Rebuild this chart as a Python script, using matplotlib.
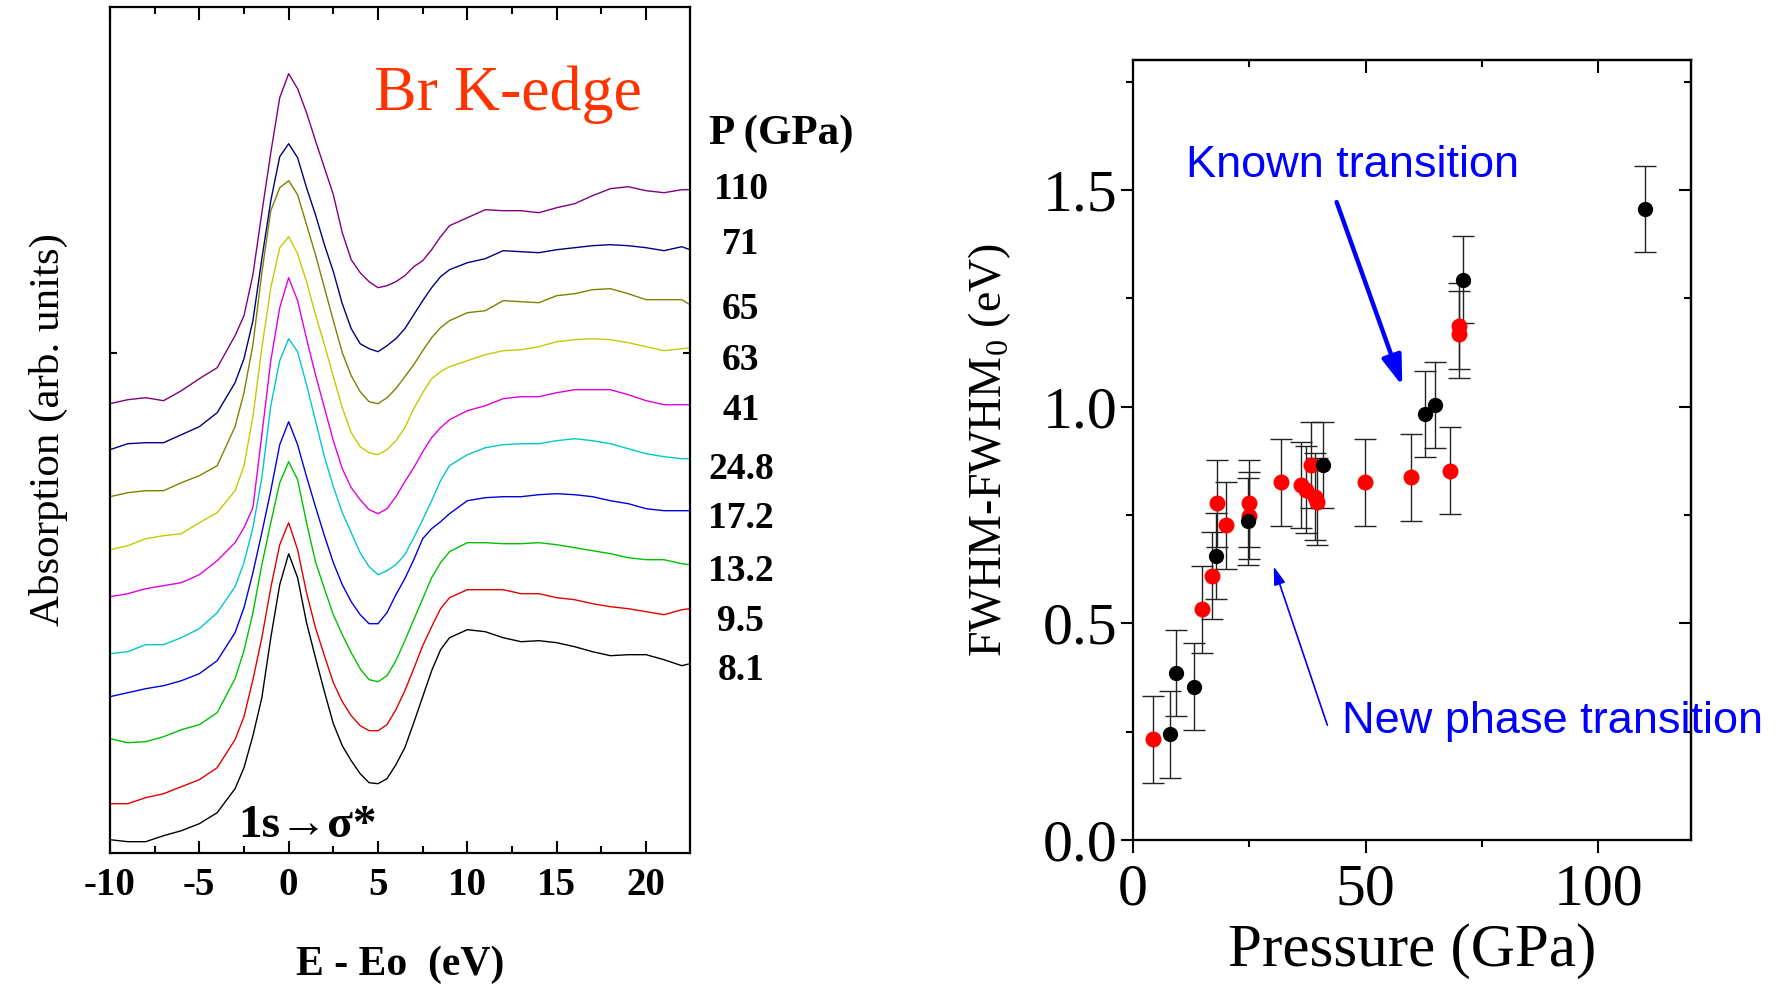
import matplotlib
matplotlib.use('Agg')
import matplotlib.pyplot as plt
from matplotlib.ticker import MultipleLocator

# 字体设置
plt.rcParams['font.family'] = ['Liberation Serif', 'DejaVu Serif']
plt.rcParams['mathtext.fontset'] = 'custom'
plt.rcParams['mathtext.rm'] = 'Liberation Serif'
plt.rcParams['axes.unicode_minus'] = False

# ---------------- Br K-edge XANES ----------------
energy = [-10, -9, -8, -7, -6, -5, -4, -3,
          -2.5, -2, -1.5, -1, -0.5, 0, 0.5, 1,
          1.5, 2, 2.5, 3, 3.5, 4, 4.5, 5,
          5.5, 6, 6.5, 7, 7.5, 8, 8.5, 9,
          10, 11, 12, 13, 14, 15, 16,
          17, 18, 19, 20, 21, 22, 22.45]

spec_8p1 = [0.13, 0.11, 0.11, 0.17, 0.22, 0.29, 0.40, 0.64,
            0.85, 1.17, 1.55, 2.15, 2.68, 2.99, 2.75, 2.30,
            1.95, 1.61, 1.29, 1.07, 0.92, 0.79, 0.70, 0.69,
            0.74, 0.88, 1.05, 1.30, 1.56, 1.82, 2.03, 2.15,
            2.23, 2.21, 2.15, 2.11, 2.12, 2.10, 2.06,
            2.01, 1.97, 1.98, 1.98, 1.93, 1.87, 1.89]
spec_9p5 = [0.49, 0.49, 0.55, 0.59, 0.66, 0.73, 0.85, 1.13,
            1.36, 1.73, 2.15, 2.65, 3.08, 3.30, 3.03, 2.60,
            2.25, 1.97, 1.70, 1.51, 1.37, 1.27, 1.22, 1.22,
            1.28, 1.43, 1.62, 1.84, 2.07, 2.26, 2.44, 2.55,
            2.63, 2.63, 2.63, 2.59, 2.59, 2.55, 2.53,
            2.49, 2.46, 2.44, 2.41, 2.38, 2.43, 2.44]
spec_13p2 = [1.14, 1.10, 1.11, 1.16, 1.23, 1.28, 1.40, 1.74,
             2.02, 2.40, 2.88, 3.30, 3.70, 3.91, 3.73, 3.30,
             2.91, 2.64, 2.38, 2.18, 2.00, 1.84, 1.73, 1.71,
             1.77, 1.92, 2.12, 2.33, 2.54, 2.75, 2.90, 3.01,
             3.10, 3.10, 3.09, 3.09, 3.10, 3.08, 3.05,
             3.02, 2.99, 2.95, 2.93, 2.93, 2.89, 2.88]
spec_17p2 = [1.56, 1.60, 1.64, 1.67, 1.72, 1.79, 1.92, 2.20,
             2.45, 2.80, 3.20, 3.62, 4.08, 4.31, 4.08, 3.76,
             3.46, 3.17, 2.90, 2.68, 2.51, 2.38, 2.29, 2.29,
             2.40, 2.58, 2.74, 2.93, 3.14, 3.24, 3.31, 3.39,
             3.52, 3.55, 3.56, 3.56, 3.58, 3.59, 3.58,
             3.56, 3.52, 3.49, 3.44, 3.42, 3.42, 3.42]
spec_24p8 = [1.99, 2.01, 2.08, 2.08, 2.15, 2.24, 2.40, 2.66,
             2.90, 3.25, 3.75, 4.47, 4.92, 5.14, 5.01, 4.68,
             4.32, 3.96, 3.66, 3.40, 3.20, 3.00, 2.86, 2.78,
             2.82, 2.88, 2.98, 3.15, 3.33, 3.52, 3.72, 3.87,
             3.98, 4.05, 4.08, 4.09, 4.09, 4.12, 4.14,
             4.12, 4.09, 4.04, 3.99, 3.96, 3.94, 3.94]
spec_41 = [2.56, 2.59, 2.64, 2.67, 2.70, 2.78, 2.92, 3.10,
           3.25, 3.45, 4.18, 4.92, 5.45, 5.75, 5.52, 5.14,
           4.78, 4.45, 4.12, 3.84, 3.65, 3.53, 3.43, 3.39,
           3.44, 3.56, 3.71, 3.85, 4.01, 4.15, 4.25, 4.33,
           4.42, 4.47, 4.54, 4.56, 4.56, 4.60, 4.63,
           4.63, 4.63, 4.58, 4.52, 4.48, 4.48, 4.48]
spec_63 = [3.03, 3.07, 3.14, 3.17, 3.19, 3.30, 3.40, 3.62,
           3.87, 4.36, 5.05, 5.65, 6.05, 6.16, 5.99, 5.71,
           5.38, 5.08, 4.76, 4.45, 4.20, 4.06, 4.00, 3.98,
           4.03, 4.12, 4.25, 4.44, 4.60, 4.74, 4.81, 4.86,
           4.92, 4.98, 5.02, 5.03, 5.06, 5.11, 5.13,
           5.14, 5.13, 5.10, 5.06, 5.02, 5.04, 5.05]
spec_65 = [3.56, 3.60, 3.62, 3.62, 3.70, 3.77, 3.87, 4.26,
           4.60, 5.08, 5.80, 6.42, 6.65, 6.72, 6.58, 6.28,
           5.98, 5.65, 5.32, 5.00, 4.77, 4.61, 4.51, 4.49,
           4.55, 4.64, 4.76, 4.88, 5.02, 5.15, 5.25, 5.32,
           5.40, 5.42, 5.52, 5.51, 5.50, 5.57, 5.59,
           5.63, 5.64, 5.59, 5.53, 5.53, 5.53, 5.48]
spec_71 = [4.03, 4.09, 4.10, 4.10, 4.18, 4.26, 4.40, 4.70,
           4.94, 5.32, 5.94, 6.52, 6.96, 7.09, 6.95, 6.65,
           6.38, 6.08, 5.81, 5.49, 5.24, 5.09, 5.04, 5.01,
           5.07, 5.14, 5.24, 5.38, 5.52, 5.65, 5.76, 5.83,
           5.90, 5.94, 6.02, 6.01, 6.00, 6.03, 6.05,
           6.07, 6.08, 6.07, 6.05, 6.02, 6.06, 6.03]
spec_110 = [4.49, 4.53, 4.55, 4.52, 4.62, 4.74, 4.85, 5.17,
            5.37, 5.78, 6.40, 7.00, 7.55, 7.79, 7.64, 7.40,
            7.12, 6.85, 6.58, 6.20, 5.93, 5.80, 5.71, 5.65,
            5.67, 5.71, 5.77, 5.86, 5.92, 6.03, 6.16, 6.27,
            6.35, 6.43, 6.42, 6.42, 6.40, 6.45, 6.49,
            6.57, 6.64, 6.66, 6.62, 6.60, 6.63, 6.63]

spectra = [spec_8p1, spec_9p5, spec_13p2, spec_17p2, spec_24p8,
           spec_41, spec_63, spec_65, spec_71, spec_110]
p_labels = ['8.1', '9.5', '13.2', '17.2', '24.8', '41', '63', '65', '71', '110']
spec_colors = ['#000000', '#e00000', '#00c000', '#0000e0', '#00c8c8',
               '#e000e0', '#c8c800', '#808000', '#000080', '#800080']
label_y = [1.82, 2.31, 2.81, 3.34, 3.83, 4.42, 4.92, 5.43, 6.08, 6.63]

# ---------------- FWHM vs pressure ----------------
p_black = [8.0, 9.4, 13.2, 17.8, 24.7, 40.9, 62.8, 64.9, 71.0, 110.0]
w_black = [0.244, 0.385, 0.354, 0.655, 0.735, 0.865, 0.983, 1.004, 1.293, 1.456]
p_red = [4.4, 14.8, 17.0, 18.2, 20.0, 25.0, 25.0, 31.8, 36.1,
         37.3, 38.3, 39.1, 39.6, 49.8, 59.7, 68.1, 70.0, 70.0]
w_red = [0.232, 0.532, 0.610, 0.777, 0.726, 0.777, 0.748, 0.825, 0.819,
         0.808, 0.865, 0.792, 0.781, 0.825, 0.837, 0.852, 1.186, 1.167]
w_err = 0.1

fig = plt.figure(figsize=(17.79, 9.86), dpi=100)

# 左图: 吸收谱
ax1 = fig.add_axes([0.0618, 0.1352, 0.3260, 0.8574])
for y, c in zip(spectra, spec_colors):
    ax1.plot(energy, y, color=c, lw=1.0)
ax1.set_xlim(-10, 22.45)
ax1.set_ylim(0, 8.454)
ax1.xaxis.set_major_locator(MultipleLocator(5))
ax1.xaxis.set_minor_locator(MultipleLocator(2.5))
ax1.set_yticks([5.0])
ax1.tick_params(which='both', direction='in', top=True, right=True, width=1.5)
ax1.tick_params(axis='x', which='major', length=9, labelsize=28, pad=10)
ax1.tick_params(axis='x', which='minor', length=5)
ax1.tick_params(axis='y', length=5, labelleft=False)
for lab in ax1.get_xticklabels():
    lab.set_fontweight('bold')
for s in ax1.spines.values():
    s.set_linewidth(1.6)
ax1.set_xlabel('E - Eo  (eV)', fontsize=30, fontweight='bold', labelpad=30)
ax1.set_ylabel('Absorption (arb. units)', fontsize=31, labelpad=30)

ax1.text(4.78, 7.43, 'Br K-edge', color='#ff3300', fontsize=46, va='baseline')
ax1.text(-2.84, 0.16, '1s\u2192\u03c3*', fontsize=34, fontweight='bold', va='baseline')
ax1.text(27.56, 7.09, 'P (GPa)', fontsize=31, fontweight='bold',
         ha='center', va='baseline', clip_on=False)
for lab, yy in zip(p_labels, label_y):
    ax1.text(25.3, yy, lab, fontsize=27, fontweight='bold',
             ha='center', va='center', clip_on=False)

# 右图: FWHM 随压力变化
ax2 = fig.add_axes([0.6367, 0.1481, 0.3141, 0.7911])
ax2.errorbar(p_red, w_red, yerr=w_err, fmt='none', ecolor='#222222',
             elinewidth=1.0, capsize=8, capthick=1.0, zorder=2)
ax2.errorbar(p_black, w_black, yerr=w_err, fmt='none', ecolor='#222222',
             elinewidth=1.0, capsize=8, capthick=1.0, zorder=2)
ax2.plot(p_red, w_red, 'o', color='#ff0000', ms=11.5, mec='none', zorder=3)
ax2.plot(p_black, w_black, 'o', color='#000000', ms=11, mec='none', zorder=4)
ax2.set_xlim(0, 120)
ax2.set_ylim(0, 1.8)
ax2.xaxis.set_major_locator(MultipleLocator(50))
ax2.xaxis.set_minor_locator(MultipleLocator(25))
ax2.yaxis.set_major_locator(MultipleLocator(0.5))
ax2.yaxis.set_minor_locator(MultipleLocator(0.25))
ax2.yaxis.set_major_formatter(matplotlib.ticker.FormatStrFormatter('%.1f'))
ax2.tick_params(which='both', direction='out', width=1.5, labelsize=43)
ax2.tick_params(which='major', length=9)
ax2.tick_params(which='minor', length=5)
ax2.tick_params(axis='x', pad=8)
ax2.tick_params(axis='y', pad=2)
for s in ax2.spines.values():
    s.set_linewidth(1.6)

# 上、右侧内向刻度
sec_x = ax2.secondary_xaxis('top')
sec_x.xaxis.set_major_locator(MultipleLocator(50))
sec_x.xaxis.set_minor_locator(MultipleLocator(25))
sec_x.tick_params(which='both', direction='in', width=1.5, labeltop=False)
sec_x.tick_params(which='major', length=9)
sec_x.tick_params(which='minor', length=5)
sec_y = ax2.secondary_yaxis('right')
sec_y.yaxis.set_major_locator(MultipleLocator(0.5))
sec_y.yaxis.set_minor_locator(MultipleLocator(0.25))
sec_y.tick_params(which='both', direction='in', width=1.5, labelright=False)
sec_y.tick_params(which='major', length=9)
sec_y.tick_params(which='minor', length=5)
for sec in (sec_x, sec_y):
    for s in sec.spines.values():
        s.set_linewidth(1.6)

ax2.set_xlabel('Pressure (GPa)', fontsize=44, labelpad=4)
ax2.set_ylabel('FWHM-FWHM$_0$ (eV)', fontsize=33, labelpad=21)

sans = ['Liberation Sans', 'DejaVu Sans']
ax2.text(11.4, 1.531, 'Known transition', color='#0000ff', fontsize=32.5,
         family=sans, va='baseline')
ax2.text(44.9, 0.246, 'New phase transition', color='#0000ff', fontsize=32.5,
         family=sans, va='baseline', clip_on=False)
ax2.annotate('', xy=(57.9, 1.048), xytext=(43.8, 1.472),
             arrowprops=dict(arrowstyle='-|>,head_length=1.2,head_width=0.4',
                             color='#0000ff', lw=3.2, mutation_scale=15,
                             shrinkA=0, shrinkB=0))
ax2.annotate('', xy=(30.3, 0.631), xytext=(41.8, 0.265),
             arrowprops=dict(arrowstyle='-|>,head_length=1.1,head_width=0.35',
                             color='#0000ff', lw=1.2, mutation_scale=10,
                             shrinkA=0, shrinkB=0))

fig.savefig('out.png', dpi=100)
